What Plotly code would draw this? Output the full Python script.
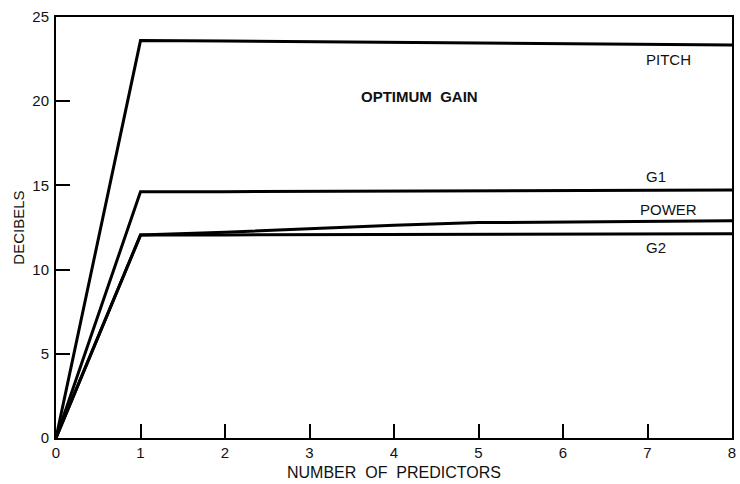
import plotly.graph_objects as go

# Number of predictors (x) and optimum gain in decibels for each signal
predictors = [0, 1, 2, 3, 4, 5, 6, 7, 8]
pitch_db = [0, 23.6, 23.57, 23.53, 23.5, 23.45, 23.4, 23.37, 23.33]
g1_db = [0, 14.62, 14.63, 14.64, 14.66, 14.67, 14.68, 14.7, 14.72]
power_db = [0, 12.05, 12.22, 12.45, 12.64, 12.79, 12.84, 12.87, 12.9]
g2_db = [0, 12.05, 12.06, 12.07, 12.08, 12.1, 12.11, 12.12, 12.13]

series = [
    ("PITCH", pitch_db),
    ("G1", g1_db),
    ("POWER", power_db),
    ("G2", g2_db),
]

# Curve labels placed near the right end of each line
curve_labels = [
    ("PITCH", 7.25, 22.45),
    ("G1", 7.1, 15.55),
    ("POWER", 7.25, 13.55),
    ("G2", 7.1, 11.3),
]

FONT = "Liberation Sans, Arial, Helvetica, sans-serif"

fig = go.Figure()
for name, vals in series:
    fig.add_trace(go.Scatter(
        x=predictors, y=vals, mode="lines", name=name,
        line=dict(color="black", width=3),
        showlegend=False,
    ))

annotations = [
    dict(x=x, y=y, xref="x", yref="y", text=t, showarrow=False,
         font=dict(family=FONT, size=15, color="#111"))
    for t, x, y in curve_labels
]
annotations.append(dict(x=4.3, y=20.25, xref="x", yref="y", text="<b>OPTIMUM  GAIN</b>",
                        showarrow=False, font=dict(family=FONT, size=15, color="#111")))
annotations.append(dict(x=0.5, y=-0.057, xref="paper", yref="paper", yanchor="top",
                        text="NUMBER  OF  PREDICTORS", showarrow=False,
                        font=dict(family=FONT, size=16, color="#111")))
annotations.append(dict(x=-0.056, y=0.5, xref="paper", yref="paper", xanchor="center",
                        text="DECIBELS", textangle=-90, showarrow=False,
                        font=dict(family=FONT, size=15, color="#111")))

axis_common = dict(
    showgrid=False, zeroline=False, showline=True, linecolor="black", linewidth=2,
    mirror=True, ticks="inside", ticklen=14, tickwidth=2, tickcolor="black",
    tickfont=dict(family=FONT, size=15, color="#111"),
)

fig.update_layout(
    width=740, height=484,
    margin=dict(l=56, r=4, t=17, b=46),
    paper_bgcolor="white", plot_bgcolor="white",
    xaxis=dict(range=[0, 8], dtick=1, **axis_common),
    yaxis=dict(range=[0, 25], dtick=5, ticklabelstandoff=2, **axis_common),
    annotations=annotations,
)

fig.write_html("out.html")
